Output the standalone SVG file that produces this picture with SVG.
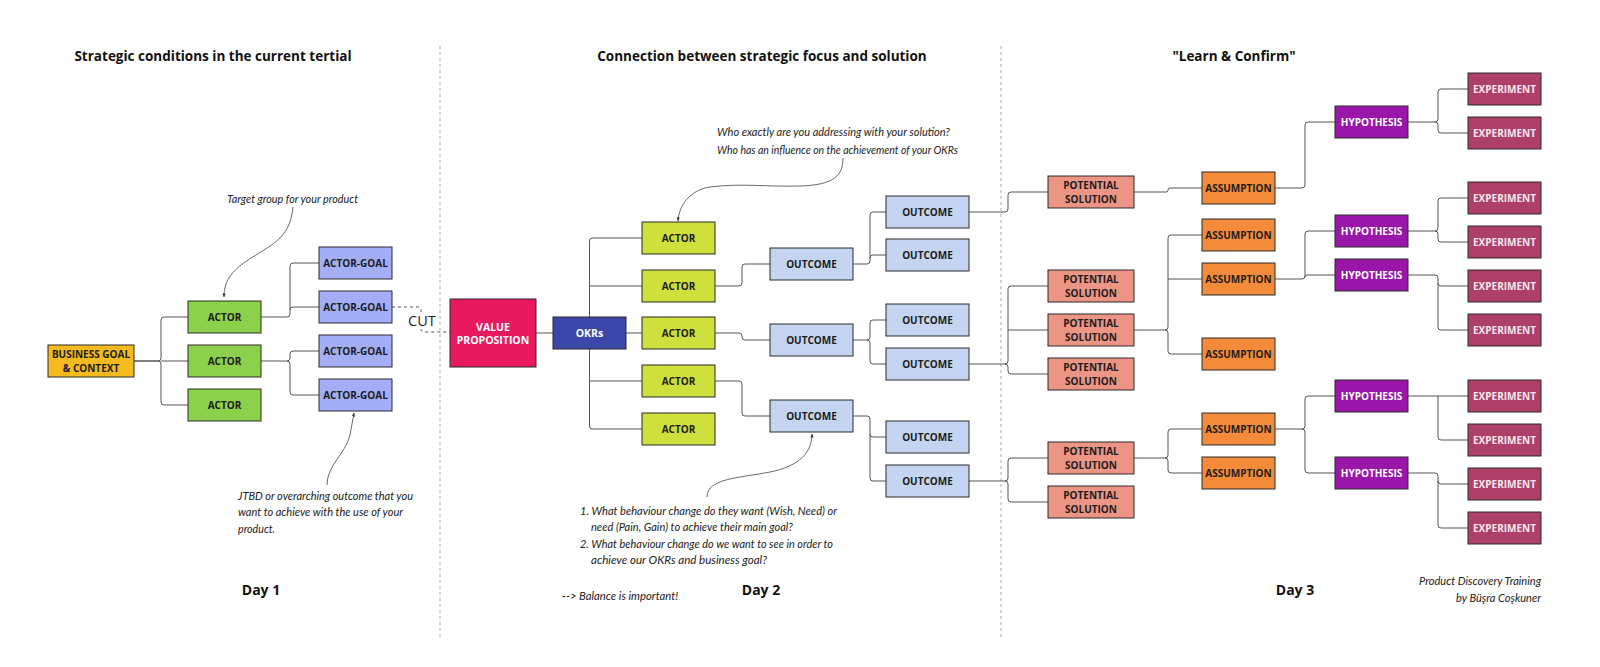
<svg xmlns="http://www.w3.org/2000/svg" width="1600" height="667" viewBox="0 0 1600 667">
<defs>
<marker id="ah" viewBox="0 0 10 10" refX="9" refY="5" markerWidth="5" markerHeight="5" orient="auto-start-reverse">
<path d="M0,1 L10,5 L0,9 z" fill="#333"/>
</marker>
<style>
.n rect{stroke:#2b2b2b;stroke-width:1}
.t{font-family:"Open Sans","Liberation Sans",sans-serif;font-weight:700;font-size:10px;text-anchor:middle;fill:#1c1c1c}
.w{fill:#ffffff}
.pw{fill:#F8E8EF}
.bg{fill:#F4BA1E}.ac1{fill:#8DD04C}.ag{fill:#A4AEF6}.vp{fill:#E8195F}.okr{fill:#3D47A9}
.ac2{fill:#CFE03C}.oc{fill:#C5D5F1}.ps{fill:#EC9585}.as{fill:#F48B3A}.hy{fill:#9A16A8}.ex{fill:#AD3F68}
.c path{fill:none;stroke:#555;stroke-width:1}
.div{stroke:#aaa;stroke-width:1;stroke-dasharray:3 3}
.h{font-family:"Open Sans","Liberation Sans",sans-serif;font-weight:700;font-size:13.5px;fill:#111;text-anchor:middle}
.day{font-family:"Open Sans","Liberation Sans",sans-serif;font-weight:700;font-size:14px;fill:#111;text-anchor:middle}
.a{font-family:"Lato","Liberation Sans",sans-serif;font-style:italic;font-size:11px;fill:#222}
.ar{fill:none;stroke:#444;stroke-width:0.8}
</style>
</defs>
<rect width="1600" height="667" fill="#ffffff"/>

<line class="div" x1="440" y1="46" x2="440" y2="640"/>
<line class="div" x1="1001" y1="46" x2="1001" y2="640"/>

<text class="h" x="213" y="61">Strategic conditions in the current tertial</text>
<text class="h" x="762" y="61">Connection between strategic focus and solution</text>
<text class="h" x="1234" y="61">"Learn &amp; Confirm"</text>

<g class="c" id="connectors">
<path d="M134,361 H158 Q161,361 161,358 V320 Q161,317 164,317 H188"/>
<path d="M161,361 H188"/>
<path d="M134,361 H158 Q161,361 161,364 V402 Q161,405 164,405 H188"/>
<path d="M261,317 H287 Q290,317 290,314 V266 Q290,263 293,263 H319"/>
<path d="M290,310 Q290,307 293,307 H319"/>
<path d="M261,361 H287 Q290,361 290,358 V354 Q290,351 293,351 H319"/>
<path d="M287,361 Q290,361 290,364 V392 Q290,395 293,395 H319"/>
<path d="M392,307 H418 Q421,307 421,310 V312" stroke-dasharray="3 3" stroke="#666"/>
<path d="M421,329 Q421,332 424,332 H450" stroke-dasharray="3 3" stroke="#666"/>
<path d="M536,333 H553"/>
<path d="M589.5,317 V241 Q589.5,238 592.5,238 H642"/>
<path d="M589.5,286 H642"/>
<path d="M626,333 H642"/>
<path d="M589.5,349 V426 Q589.5,429 592.5,429 H642"/>
<path d="M589.5,381 H642"/>
<path d="M715,286 H739 Q742,286 742,283 V267 Q742,264 745,264 H770"/>
<path d="M715,333 H739 Q742,333 742,336 V337 Q742,340 745,340 H770"/>
<path d="M715,381 H739 Q742,381 742,384 V413 Q742,416 745,416 H770"/>
<path d="M853,264 H867 Q870,264 870,261 V215 Q870,212 873,212 H886"/>
<path d="M870,258 Q870,255 873,255 H886"/>
<path d="M853,340 H867 Q870,340 870,337 V323 Q870,320 873,320 H886"/>
<path d="M867,340 Q870,340 870,343 V361 Q870,364 873,364 H886"/>
<path d="M853,416 H867 Q870,416 870,419 V434 Q870,437 873,437 H886"/>
<path d="M870,434 V478 Q870,481 873,481 H886"/>
<path d="M969,212 H1005 Q1008,212 1008,209 V195 Q1008,192 1011,192 H1048"/>
<path d="M969,364 H1005 Q1008,364 1008,361 V289 Q1008,286 1011,286 H1048"/>
<path d="M1008,330 H1048"/>
<path d="M1005,364 Q1008,364 1008,367 V371 Q1008,374 1011,374 H1048"/>
<path d="M969,481 H1005 Q1008,481 1008,478 V461 Q1008,458 1011,458 H1048"/>
<path d="M1005,481 Q1008,481 1008,484 V499 Q1008,502 1011,502 H1048"/>
<path d="M1134,192 H1166 Q1168,192 1168,190 Q1168,188 1170,188 H1202"/>
<path d="M1134,330 H1165 Q1168,330 1168,327 V238 Q1168,235 1171,235 H1202"/>
<path d="M1168,279 H1202"/>
<path d="M1165,330 Q1168,330 1168,333 V351 Q1168,354 1171,354 H1202"/>
<path d="M1134,458 H1165 Q1168,458 1168,455 V432 Q1168,429 1171,429 H1202"/>
<path d="M1165,458 Q1168,458 1168,461 V470 Q1168,473 1171,473 H1202"/>
<path d="M1275,188 H1302 Q1305,188 1305,185 V125 Q1305,122 1308,122 H1335"/>
<path d="M1275,279 H1302 Q1305,279 1305,276 V234 Q1305,231 1308,231 H1335"/>
<path d="M1305,277 Q1305,275 1307,275 H1335"/>
<path d="M1275,429 H1302 Q1305,429 1305,426 V399 Q1305,396 1308,396 H1335"/>
<path d="M1302,429 Q1305,429 1305,432 V470 Q1305,473 1308,473 H1335"/>
<path d="M1408,122 H1435 Q1438,122 1438,119 V92 Q1438,89 1441,89 H1468"/>
<path d="M1435,122 Q1438,122 1438,125 V130 Q1438,133 1441,133 H1468"/>
<path d="M1408,231 H1435 Q1438,231 1438,228 V201 Q1438,198 1441,198 H1468"/>
<path d="M1435,231 Q1438,231 1438,234 V239 Q1438,242 1441,242 H1468"/>
<path d="M1408,275 H1435 Q1438,275 1438,278 V283 Q1438,286 1441,286 H1468"/>
<path d="M1438,283 V327 Q1438,330 1441,330 H1468"/>
<path d="M1408,396 H1468"/>
<path d="M1438,396 V437 Q1438,440 1441,440 H1468"/>
<path d="M1408,473 H1435 Q1438,473 1438,476 V481 Q1438,484 1441,484 H1468"/>
<path d="M1438,481 V525 Q1438,528 1441,528 H1468"/>
</g>
<text x="408" y="326" style="font-family:'Open Sans','Liberation Sans',sans-serif;font-size:14.5px;fill:#222">CUT</text>

<!-- Day 1 nodes -->
<g class="n" id="business-goal"><rect class="bg" x="48" y="345" width="86" height="32"/><text class="t" x="91" y="357.5">BUSINESS GOAL</text><text class="t" x="91" y="371.5">&amp; CONTEXT</text></g>
<g class="n" id="actor-1"><rect class="ac1" x="188" y="301" width="73" height="32"/><text class="t" x="224.5" y="320.6">ACTOR</text></g>
<g class="n" id="actor-2"><rect class="ac1" x="188" y="345" width="73" height="32"/><text class="t" x="224.5" y="364.6">ACTOR</text></g>
<g class="n" id="actor-3"><rect class="ac1" x="188" y="389" width="73" height="32"/><text class="t" x="224.5" y="408.6">ACTOR</text></g>
<g class="n" id="actor-goal-1"><rect class="ag" x="319" y="247" width="73" height="32"/><text class="t" x="355.5" y="266.6">ACTOR-GOAL</text></g>
<g class="n" id="actor-goal-2"><rect class="ag" x="319" y="291" width="73" height="32"/><text class="t" x="355.5" y="310.6">ACTOR-GOAL</text></g>
<g class="n" id="actor-goal-3"><rect class="ag" x="319" y="335" width="73" height="32"/><text class="t" x="355.5" y="354.6">ACTOR-GOAL</text></g>
<g class="n" id="actor-goal-4"><rect class="ag" x="319" y="379" width="73" height="32"/><text class="t" x="355.5" y="398.6">ACTOR-GOAL</text></g>

<!-- Day 2 nodes -->
<g class="n" id="value-proposition"><rect class="vp" x="450" y="299" width="86" height="68"/><text class="t w" x="493" y="330.5" style="font-size:10.5px">VALUE</text><text class="t w" x="493" y="344" style="font-size:10.5px">PROPOSITION</text></g>
<g class="n" id="okrs"><rect class="okr" x="553" y="317" width="73" height="32"/><text class="t w" x="589.5" y="336.8" style="font-size:10.5px">OKRs</text></g>
<g class="n" id="d2-actor-1"><rect class="ac2" x="642" y="222" width="73" height="32"/><text class="t" x="678.5" y="241.6">ACTOR</text></g>
<g class="n" id="d2-actor-2"><rect class="ac2" x="642" y="270" width="73" height="32"/><text class="t" x="678.5" y="289.6">ACTOR</text></g>
<g class="n" id="d2-actor-3"><rect class="ac2" x="642" y="317" width="73" height="32"/><text class="t" x="678.5" y="336.6">ACTOR</text></g>
<g class="n" id="d2-actor-4"><rect class="ac2" x="642" y="365" width="73" height="32"/><text class="t" x="678.5" y="384.6">ACTOR</text></g>
<g class="n" id="d2-actor-5"><rect class="ac2" x="642" y="413" width="73" height="32"/><text class="t" x="678.5" y="432.6">ACTOR</text></g>
<g class="n" id="outcome-1"><rect class="oc" x="770" y="248" width="83" height="32"/><text class="t" x="811.5" y="267.6">OUTCOME</text></g>
<g class="n" id="outcome-2"><rect class="oc" x="770" y="324" width="83" height="32"/><text class="t" x="811.5" y="343.6">OUTCOME</text></g>
<g class="n" id="outcome-3"><rect class="oc" x="770" y="400" width="83" height="32"/><text class="t" x="811.5" y="419.6">OUTCOME</text></g>
<g class="n" id="outcome-1a"><rect class="oc" x="886" y="196" width="83" height="32"/><text class="t" x="927.5" y="215.6">OUTCOME</text></g>
<g class="n" id="outcome-1b"><rect class="oc" x="886" y="239" width="83" height="32"/><text class="t" x="927.5" y="258.6">OUTCOME</text></g>
<g class="n" id="outcome-2a"><rect class="oc" x="886" y="304" width="83" height="32"/><text class="t" x="927.5" y="323.6">OUTCOME</text></g>
<g class="n" id="outcome-2b"><rect class="oc" x="886" y="348" width="83" height="32"/><text class="t" x="927.5" y="367.6">OUTCOME</text></g>
<g class="n" id="outcome-3a"><rect class="oc" x="886" y="421" width="83" height="32"/><text class="t" x="927.5" y="440.6">OUTCOME</text></g>
<g class="n" id="outcome-3b"><rect class="oc" x="886" y="465" width="83" height="32"/><text class="t" x="927.5" y="484.6">OUTCOME</text></g>

<!-- Day 3 nodes -->
<g class="n" id="solution-1"><rect class="ps" x="1048" y="176" width="86" height="32"/><text class="t" x="1091" y="189">POTENTIAL</text><text class="t" x="1091" y="202.5">SOLUTION</text></g>
<g class="n" id="solution-2"><rect class="ps" x="1048" y="270" width="86" height="32"/><text class="t" x="1091" y="283">POTENTIAL</text><text class="t" x="1091" y="296.5">SOLUTION</text></g>
<g class="n" id="solution-3"><rect class="ps" x="1048" y="314" width="86" height="32"/><text class="t" x="1091" y="327">POTENTIAL</text><text class="t" x="1091" y="340.5">SOLUTION</text></g>
<g class="n" id="solution-4"><rect class="ps" x="1048" y="358" width="86" height="32"/><text class="t" x="1091" y="371">POTENTIAL</text><text class="t" x="1091" y="384.5">SOLUTION</text></g>
<g class="n" id="solution-5"><rect class="ps" x="1048" y="442" width="86" height="32"/><text class="t" x="1091" y="455">POTENTIAL</text><text class="t" x="1091" y="468.5">SOLUTION</text></g>
<g class="n" id="solution-6"><rect class="ps" x="1048" y="486" width="86" height="32"/><text class="t" x="1091" y="499">POTENTIAL</text><text class="t" x="1091" y="512.5">SOLUTION</text></g>
<g class="n" id="assumption-1"><rect class="as" x="1202" y="172" width="73" height="32"/><text class="t" x="1238.5" y="191.6">ASSUMPTION</text></g>
<g class="n" id="assumption-2"><rect class="as" x="1202" y="219" width="73" height="32"/><text class="t" x="1238.5" y="238.6">ASSUMPTION</text></g>
<g class="n" id="assumption-3"><rect class="as" x="1202" y="263" width="73" height="32"/><text class="t" x="1238.5" y="282.6">ASSUMPTION</text></g>
<g class="n" id="assumption-4"><rect class="as" x="1202" y="338" width="73" height="32"/><text class="t" x="1238.5" y="357.6">ASSUMPTION</text></g>
<g class="n" id="assumption-5"><rect class="as" x="1202" y="413" width="73" height="32"/><text class="t" x="1238.5" y="432.6">ASSUMPTION</text></g>
<g class="n" id="assumption-6"><rect class="as" x="1202" y="457" width="73" height="32"/><text class="t" x="1238.5" y="476.6">ASSUMPTION</text></g>
<g class="n" id="hypothesis-1"><rect class="hy" x="1335" y="106" width="73" height="32"/><text class="t w" x="1371.5" y="125.6">HYPOTHESIS</text></g>
<g class="n" id="hypothesis-2"><rect class="hy" x="1335" y="215" width="73" height="32"/><text class="t w" x="1371.5" y="234.6">HYPOTHESIS</text></g>
<g class="n" id="hypothesis-3"><rect class="hy" x="1335" y="259" width="73" height="32"/><text class="t w" x="1371.5" y="278.6">HYPOTHESIS</text></g>
<g class="n" id="hypothesis-4"><rect class="hy" x="1335" y="380" width="73" height="32"/><text class="t w" x="1371.5" y="399.6">HYPOTHESIS</text></g>
<g class="n" id="hypothesis-5"><rect class="hy" x="1335" y="457" width="73" height="32"/><text class="t w" x="1371.5" y="476.6">HYPOTHESIS</text></g>
<g class="n" id="experiment-1"><rect class="ex" x="1468" y="73" width="73" height="32"/><text class="t pw" x="1504.5" y="92.6">EXPERIMENT</text></g>
<g class="n" id="experiment-2"><rect class="ex" x="1468" y="117" width="73" height="32"/><text class="t pw" x="1504.5" y="136.6">EXPERIMENT</text></g>
<g class="n" id="experiment-3"><rect class="ex" x="1468" y="182" width="73" height="32"/><text class="t pw" x="1504.5" y="201.6">EXPERIMENT</text></g>
<g class="n" id="experiment-4"><rect class="ex" x="1468" y="226" width="73" height="32"/><text class="t pw" x="1504.5" y="245.6">EXPERIMENT</text></g>
<g class="n" id="experiment-5"><rect class="ex" x="1468" y="270" width="73" height="32"/><text class="t pw" x="1504.5" y="289.6">EXPERIMENT</text></g>
<g class="n" id="experiment-6"><rect class="ex" x="1468" y="314" width="73" height="32"/><text class="t pw" x="1504.5" y="333.6">EXPERIMENT</text></g>
<g class="n" id="experiment-7"><rect class="ex" x="1468" y="380" width="73" height="32"/><text class="t pw" x="1504.5" y="399.6">EXPERIMENT</text></g>
<g class="n" id="experiment-8"><rect class="ex" x="1468" y="424" width="73" height="32"/><text class="t pw" x="1504.5" y="443.6">EXPERIMENT</text></g>
<g class="n" id="experiment-9"><rect class="ex" x="1468" y="468" width="73" height="32"/><text class="t pw" x="1504.5" y="487.6">EXPERIMENT</text></g>
<g class="n" id="experiment-10"><rect class="ex" x="1468" y="512" width="73" height="32"/><text class="t pw" x="1504.5" y="531.6">EXPERIMENT</text></g>

<!-- annotations -->
<g id="annotations">
<path class="ar" d="M293,207 C290,240 270,245 245,262 C228,274 224,285 224,297" marker-end="url(#ah)"/>
<path class="ar" d="M327,485 C327,465 345,455 350,435 L354,413" marker-end="url(#ah)"/>
<path class="ar" d="M843,158 C843,175 835,185 800,186 C770,187 740,183 710,187 C690,190 679,205 678,221" marker-end="url(#ah)"/>
<path class="ar" d="M707,497 C707,478 740,478 770,472 C800,466 812,452 812,434" marker-end="url(#ah)"/>
<text class="a" x="227" y="203" textLength="131" lengthAdjust="spacingAndGlyphs">Target group for your product</text>
<text class="a" x="238" y="500" textLength="175" lengthAdjust="spacingAndGlyphs">JTBD or overarching outcome that you</text>
<text class="a" x="238" y="516" textLength="165" lengthAdjust="spacingAndGlyphs">want to achieve with the use of your</text>
<text class="a" x="238" y="533" textLength="37" lengthAdjust="spacingAndGlyphs">product.</text>
<text class="a" x="717" y="136" textLength="233" lengthAdjust="spacingAndGlyphs">Who exactly are you addressing with your solution?</text>
<text class="a" x="717" y="154" textLength="241" lengthAdjust="spacingAndGlyphs">Who has an influence on the achievement of your OKRs</text>
<text class="a" x="580" y="515" textLength="257" lengthAdjust="spacingAndGlyphs">1. What behaviour change do they want (Wish, Need) or</text>
<text class="a" x="591" y="531" textLength="202" lengthAdjust="spacingAndGlyphs">need (Pain, Gain) to achieve their main goal?</text>
<text class="a" x="580" y="548" textLength="253" lengthAdjust="spacingAndGlyphs">2. What behaviour change do we want to see in order to</text>
<text class="a" x="591" y="564" textLength="176" lengthAdjust="spacingAndGlyphs">achieve our OKRs and business goal?</text>
<text class="a" x="562" y="600" textLength="116" lengthAdjust="spacingAndGlyphs">--&gt; Balance is important!</text>
<text class="a" x="1419" y="585" textLength="122" lengthAdjust="spacingAndGlyphs">Product Discovery Training</text>
<text class="a" x="1456" y="602" textLength="85" lengthAdjust="spacingAndGlyphs">by Büşra Coşkuner</text>
</g>

<text class="day" x="261" y="595">Day 1</text>
<text class="day" x="761" y="595">Day 2</text>
<text class="day" x="1295" y="595">Day 3</text>
</svg>
